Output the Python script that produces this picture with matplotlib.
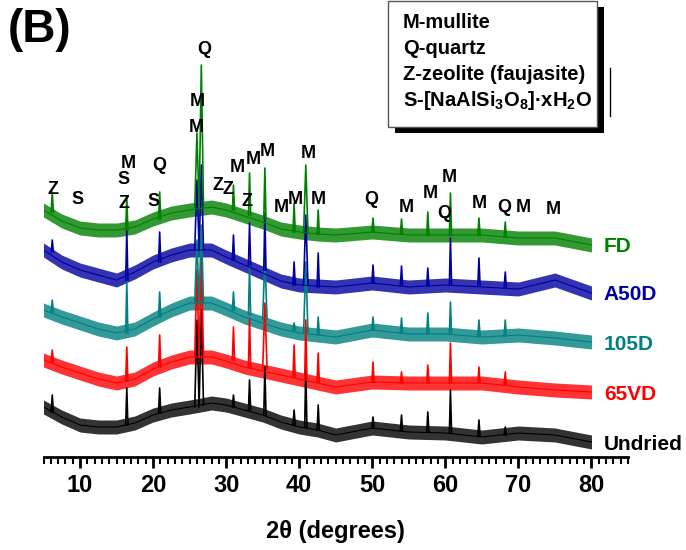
import numpy as np
import matplotlib
matplotlib.use('Agg')
import matplotlib.pyplot as plt
from matplotlib.patches import Rectangle
from matplotlib.lines import Line2D

plt.rcParams['font.family'] = ['Liberation Sans', 'DejaVu Sans']
plt.rcParams['font.weight'] = 'bold'
plt.rcParams['mathtext.fontset'] = 'custom'
plt.rcParams['mathtext.rm'] = 'Liberation Sans:bold'
plt.rcParams['mathtext.it'] = 'Liberation Sans:bold'
plt.rcParams['mathtext.bf'] = 'Liberation Sans:bold'

# baseline read at these 2theta knots (intensity, arbitrary units)
knots = [5, 7.5, 10, 12.5, 15, 17.5, 20, 22.5, 25, 28, 30, 32.5, 35, 37.5, 40,
         42.5, 45, 50, 55, 60, 65, 70, 75, 80]
base_undried = [50, 40, 32, 30, 30, 34, 42, 47, 50, 54, 52, 47, 42, 35, 30, 27, 22,
                29, 25, 24, 20, 24, 22, 15]
base_65vd = [47, 40, 34, 28, 24, 28, 38, 45, 50, 50, 46, 40, 36, 32, 28, 24, 20,
             25, 24, 24, 24, 20, 17, 15]
base_105d = [47, 40, 34, 28, 24, 28, 38, 47, 54, 54, 48, 40, 34, 28, 24, 22, 20,
             27, 23, 23, 20, 22, 19, 15]
base_a50d = [57, 45, 37, 32, 27, 35, 45, 52, 57, 57, 50, 42, 34, 26, 22, 21, 20,
             24, 20, 22, 20, 18, 27, 14]
base_fd = [47, 36, 29, 27, 27, 30, 38, 44, 47, 50, 47, 41, 35, 28, 25, 23, 22,
           25, 22, 22, 22, 19, 19, 12]

# reflections: position, foot and top intensity for each sample
peak_pos = [6.2, 16.4, 20.9, 26.0, 26.6, 31.0, 33.2, 35.3, 39.3, 40.9, 42.6,
            50.1, 54.0, 57.6, 60.7, 64.6, 68.2]
foot_undried = [45, 32, 44, 50, 52, 50, 47, 42, 32, 30, 27, 29, 26, 25, 24, 21, 22]
top_undried = [62, 69, 69, 137, 147, 62, 77, 90, 47, 90, 52, 40, 42, 45, 67, 37, 30]
foot_65vd = [45, 26, 40, 50, 50, 47, 40, 38, 30, 28, 25, 25, 24, 24, 24, 24, 22]
top_65vd = [57, 60, 72, 137, 150, 80, 89, 104, 62, 87, 54, 45, 35, 42, 64, 40, 35]
foot_105d = [45, 24, 40, 54, 54, 47, 42, 38, 27, 24, 22, 27, 24, 23, 23, 21, 21]
top_105d = [57, 75, 65, 117, 132, 65, 90, 100, 34, 95, 40, 40, 39, 44, 55, 37, 37]
foot_a50d = [55, 27, 45, 57, 57, 47, 42, 37, 22, 22, 20, 24, 22, 21, 22, 22, 20]
top_a50d = [67, 77, 75, 127, 142, 72, 84, 94, 45, 92, 54, 42, 41, 39, 69, 49, 35]
foot_fd = [45, 27, 38, 50, 50, 47, 42, 38, 25, 24, 23, 25, 23, 22, 22, 22, 20]
top_fd = [65, 60, 65, 124, 192, 72, 84, 89, 54, 92, 47, 39, 38, 45, 64, 39, 35]

samples = ['Undried', '65VD', '105D', 'A50D', 'FD']
offsets = [0, 50, 100, 150, 200]
colors = ['black', '#ff0000', '#008080', '#0000a0', '#008000']
bases = [base_undried, base_65vd, base_105d, base_a50d, base_fd]
feet = [foot_undried, foot_65vd, foot_105d, foot_a50d, foot_fd]
tops = [top_undried, top_65vd, top_105d, top_a50d, top_fd]
noise = 7  # half height of the noise band seen on every trace

# phase labels: text, 2theta, height
lab_txt = ['Z', 'S', 'M', 'S', 'Z', 'Q', 'S', 'Q', 'M', 'M', 'Z', 'Z', 'M', 'M', 'M',
           'Z', 'M', 'M', 'M', 'M', 'Q', 'M', 'M', 'M', 'Q', 'M', 'Q', 'M', 'M']
lab_x = [6.3, 9.6, 16.6, 16.0, 16.0, 20.9, 20.0, 26.95, 26.0, 25.9, 28.9, 30.2, 31.5,
         33.7, 35.7, 32.8, 37.5, 39.4, 41.2, 42.6, 49.9, 54.6, 58.0, 60.6, 59.9,
         64.7, 68.0, 70.7, 74.8]
lab_y = [267, 257, 293, 278, 254, 291, 256, 408, 355, 329, 272, 267, 289, 298, 305,
         255, 249, 258, 303, 258, 257, 249, 263, 280, 244, 253, 249, 249, 247]

fig = plt.figure(figsize=(6.86, 5.5), dpi=100)
ax = fig.add_axes([43.5 / 686, 93 / 550, (628 - 43.5) / 686, 457 / 550])

for name, off, col, b, f, t in zip(samples, offsets, colors, bases, feet, tops):
    b = np.array(b) + off
    ax.fill_between(knots, b - noise, b + noise, color=col, alpha=0.8, lw=0)
    ax.plot(knots, b, color=col, lw=0.8)
    for p, lo, hi in zip(peak_pos, f, t):
        w = 0.3 if hi - lo > 60 else 0.15
        ax.plot([p - w, p, p + w], [lo + off, hi + off, lo + off], color=col, lw=1.2)
    ax.text(81.7, b[-1] - 2, name, color=col, fontsize=15, fontweight='bold',
            va='center', ha='left')

for s, x, y in zip(lab_txt, lab_x, lab_y):
    ax.text(x, y, s, fontsize=13, fontweight='bold', ha='center', va='center')

ax.set_xlim(5, 85)
ax.set_ylim(0, 457)
for sp in ['left', 'top', 'right']:
    ax.spines[sp].set_visible(False)
ax.spines['bottom'].set_linewidth(2)
ax.set_yticks([])
ax.set_xticks(range(10, 81, 10))
ax.set_xticks(range(5, 86), minor=True)
ax.tick_params(axis='x', which='major', length=8, width=2, labelsize=17, pad=4)
ax.tick_params(axis='x', which='minor', length=5, width=1.5)
for lbl in ax.get_xticklabels():
    lbl.set_fontweight('bold')
ax.set_xlabel('2θ (degrees)', fontsize=17, fontweight='bold', labelpad=17)

fig.text(40 / 686, 1 - 30 / 550, '(B)', fontsize=33, fontweight='bold',
         ha='center', va='center')

# key box with drop shadow
fig.add_artist(Rectangle((395 / 686, 1 - 133 / 550), 209 / 686, 126 / 550,
                         transform=fig.transFigure, color='black', lw=0))
fig.add_artist(Rectangle((388 / 686, 1 - 127 / 550), 209 / 686, 126 / 550,
                         transform=fig.transFigure, facecolor='white',
                         edgecolor='#555555', lw=1))
fig.add_artist(Line2D([610 / 686, 610 / 686], [1 - 68 / 550, 1 - 116 / 550],
                      transform=fig.transFigure, color='black', lw=1))
key = ['M-mullite', 'Q-quartz', 'Z-zeolite (faujasite)',
       r'S-[NaAlSi$_3$O$_8$]·xH$_2$O']
for i, k in enumerate(key):
    fig.text(403 / 686, 1 - (22 + 26 * i) / 550, k, fontsize=14.5, fontweight='bold',
             ha='left', va='center')

fig.savefig('out.png', dpi=100)
